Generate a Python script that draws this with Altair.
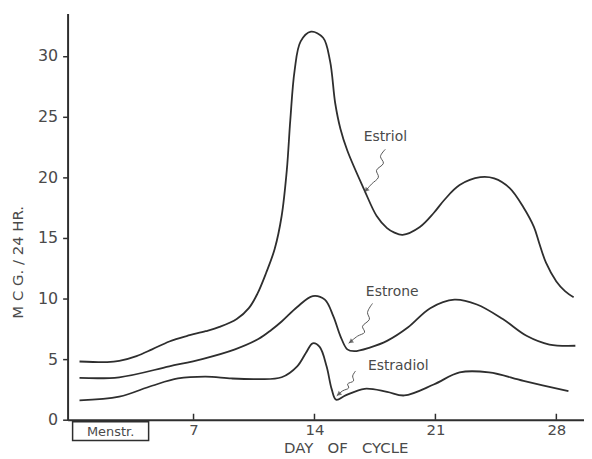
import altair as alt
import pandas as pd

# ---- data ----
estriol_day = [0.4, 2.0, 2.7, 3.7, 4.6, 5.6, 6.6, 7.7, 8.5, 9.5, 10.2, 10.7, 11.2, 11.7, 12.1,
               12.4, 12.6, 12.85, 13.2, 13.8, 14.5, 14.9, 15.2, 15.5, 15.9, 16.9, 17.6, 18.2,
               18.6, 19.1, 20.1, 20.9, 21.5, 22.4, 23.6, 24.4, 25.3, 26.1, 26.7, 27.0, 27.4,
               28.0, 28.5, 29.0]
estriol_val = [4.8, 4.75, 4.85, 5.25, 5.8, 6.45, 6.9, 7.3, 7.65, 8.3, 9.2, 10.4, 12.1, 14.1, 16.8,
               20.6, 24.7, 28.8, 31.2, 32.0, 31.5, 29.6, 26.1, 24.0, 22.2, 18.9, 16.8, 15.8,
               15.45, 15.25, 15.9, 17.05, 18.1, 19.35, 20.0, 19.9, 19.1, 17.5, 15.9, 14.6, 12.95,
               11.4, 10.6, 10.1]

estrone_day = [0.4, 2.7, 5.6, 7.5, 9.4, 10.75, 11.5, 12.1, 13.0, 13.9, 14.6, 15.1, 15.5, 15.9,
               16.3, 17.2, 18.2, 19.4, 20.7, 22.1, 23.4, 24.9, 26.3, 27.6, 29.1]
estrone_val = [3.45, 3.5, 4.4, 5.0, 5.8, 6.65, 7.4, 8.1, 9.3, 10.2, 9.9, 8.5, 6.9, 5.8,
               5.65, 5.95, 6.5, 7.6, 9.2, 9.9, 9.5, 8.3, 6.9, 6.2, 6.1]

estradiol_day = [0.4, 2.7, 4.6, 6.1, 7.7, 9.2, 10.7, 12.1, 13.0, 13.5, 13.9, 14.3, 14.7, 15.0,
                 15.25, 15.8, 16.9, 18.2, 19.2, 20.9, 22.4, 24.1, 26.1, 28.7]
estradiol_val = [1.6, 1.9, 2.8, 3.4, 3.55, 3.4, 3.35, 3.5, 4.4, 5.5, 6.3, 6.0, 4.4, 2.5,
                 1.65, 2.0, 2.55, 2.3, 2.0, 2.9, 3.9, 3.9, 3.2, 2.35]

x_ticks = [7, 14, 21, 28]
y_ticks = [0, 5, 10, 15, 20, 25, 30]

label_names = ["Estriol", "Estrone", "Estradiol"]
label_day = [18.1, 18.5, 18.85]
label_val = [23.3, 10.55, 4.45]

# squiggly pointer lines (day, value), last point is the arrow tip
ptr_estriol_day = [18.10, 17.82, 17.99, 17.59, 17.70, 17.30, 16.90]
ptr_estriol_val = [22.30, 21.72, 21.15, 20.57, 20.00, 19.43, 18.77]
ptr_estrone_day = [17.36, 17.07, 17.18, 16.78, 16.90, 16.49, 15.98]
ptr_estrone_val = [9.59, 8.85, 8.28, 7.70, 7.21, 6.89, 6.31]
ptr_estradiol_day = [16.38, 16.21, 16.26, 15.92, 15.98, 15.63, 15.29]
ptr_estradiol_val = [4.02, 3.61, 3.20, 2.95, 2.62, 2.38, 1.97]
ptr_angle = [41, 53, 50]

menstr_start, menstr_end = [0.0], [4.4]

# ---- tables ----
curves = pd.concat([
    pd.DataFrame({"day": estriol_day, "value": estriol_val, "series": "Estriol"}),
    pd.DataFrame({"day": estrone_day, "value": estrone_val, "series": "Estrone"}),
    pd.DataFrame({"day": estradiol_day, "value": estradiol_val, "series": "Estradiol"}),
])
ptrs = pd.concat([
    pd.DataFrame({"day": ptr_estriol_day, "value": ptr_estriol_val, "series": "Estriol", "o": range(7)}),
    pd.DataFrame({"day": ptr_estrone_day, "value": ptr_estrone_val, "series": "Estrone", "o": range(7)}),
    pd.DataFrame({"day": ptr_estradiol_day, "value": ptr_estradiol_val, "series": "Estradiol", "o": range(7)}),
])
tips = pd.DataFrame({
    "day": [ptr_estriol_day[-1], ptr_estrone_day[-1], ptr_estradiol_day[-1]],
    "value": [ptr_estriol_val[-1], ptr_estrone_val[-1], ptr_estradiol_val[-1]],
    "angle": ptr_angle,
})
labels = pd.DataFrame({"name": label_names, "day": label_day, "value": label_val})

FONT = "DejaVu Sans"
INK = "#2e2e2e"
TXT = "#4a4a4a"

xs = alt.Scale(domain=[-0.29, 29.6], nice=False, zero=False)
ys = alt.Scale(domain=[0, 33.5], nice=False, zero=False)

x_axis = alt.Axis(values=x_ticks, tickSize=0, labelPadding=3, labelFontSize=15, labelFont=FONT,
                  labelColor=TXT, domainColor=INK, domainWidth=2, grid=False,
                  title="DAY\u00a0\u00a0\u00a0OF\u00a0\u00a0\u00a0CYCLE", titleFont=FONT,
                  titleFontSize=15, titleFontWeight="normal", titleColor=TXT,
                  titleX=280, titleY=28, titleAlign="center", titleBaseline="middle")
y_axis = alt.Axis(values=y_ticks, tickSize=5, tickWidth=1.5, tickColor=INK, labelPadding=5,
                  labelFontSize=16, labelFont=FONT, labelColor=TXT, domainColor=INK, domainWidth=2,
                  grid=False, title="M\u00a0C\u00a0G.\u00a0/\u00a024\u00a0HR.", titleFont=FONT,
                  titleFontSize=15, titleFontWeight="normal", titleColor=TXT,
                  titleX=-50, titleY=250, titleAngle=270, titleAlign="center", titleBaseline="middle")

lines = alt.Chart(curves).mark_line(interpolate="catmull-rom", color=INK, strokeWidth=1.8).encode(
    x=alt.X("day:Q", scale=xs, axis=x_axis),
    y=alt.Y("value:Q", scale=ys, axis=y_axis),
    detail="series:N",
)

pointer = alt.Chart(ptrs).mark_line(interpolate="catmull-rom", color="#555", strokeWidth=1).encode(
    x=alt.X("day:Q", scale=xs), y=alt.Y("value:Q", scale=ys), detail="series:N", order="o:Q")

heads = alt.Chart(tips).mark_point(shape="M-0.55,-1L0,0L0.55,-1Z", filled=True, color="#444",
                                   size=90).encode(
    x=alt.X("day:Q", scale=xs), y=alt.Y("value:Q", scale=ys), angle=alt.Angle("angle:Q", scale=None))

texts = alt.Chart(labels).mark_text(font=FONT, fontSize=14, color=TXT).encode(
    x=alt.X("day:Q", scale=xs), y=alt.Y("value:Q", scale=ys), text="name:N")

tickdf = pd.DataFrame({"day": x_ticks})
xticks = alt.Chart(tickdf).mark_rule(color=INK, strokeWidth=1.5).encode(
    x=alt.X("day:Q", scale=xs), y=alt.value(403), y2=alt.value(409))

boxdf = pd.DataFrame({"start": menstr_start, "end": menstr_end, "mid": [(menstr_start[0] + menstr_end[0]) / 2],
                      "label": ["Menstr."]})
box = alt.Chart(boxdf).mark_rect(fillOpacity=0, stroke=INK, strokeWidth=1.5, clip=False).encode(
    x=alt.X("start:Q", scale=xs), x2="end:Q", y=alt.value(411), y2=alt.value(430))
boxtext = alt.Chart(boxdf).mark_text(font=FONT, fontSize=13, color=TXT).encode(
    x=alt.X("mid:Q", scale=xs), y=alt.value(421), text="label:N")

chart = alt.layer(lines, pointer, heads, texts, xticks, box, boxtext).properties(
    width=520, height=409,
    padding={"left": 60, "top": 4, "right": 0, "bottom": 37},
    autosize=alt.AutoSizeParams(type="none"),
    background="white",
).configure_view(stroke=None)

chart.save("out.html", embed_options={"renderer": "svg", "actions": False})
